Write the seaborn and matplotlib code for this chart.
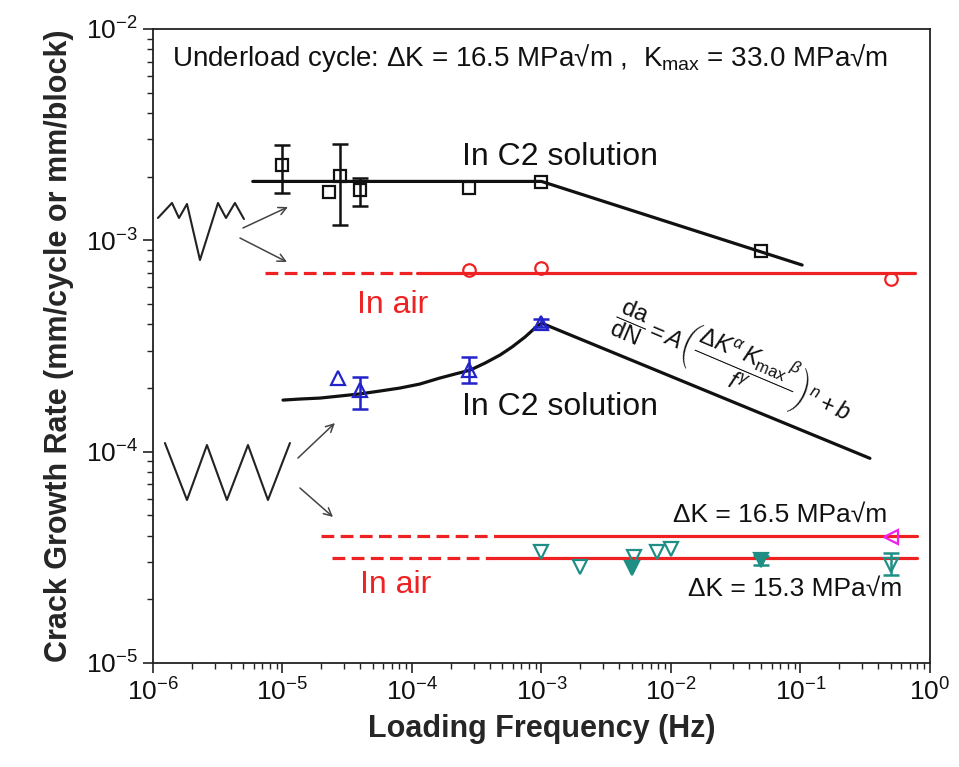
import matplotlib
matplotlib.use("Agg")
import matplotlib.pyplot as plt
import numpy as np
import pandas as pd
import seaborn as sns

# ---------------- data ----------------
# Underload cycle, C2 solution (black squares)
ul_c2_freq = [1.0e-5, 2.3e-5, 2.8e-5, 4.0e-5, 2.75e-4, 1.0e-3, 5.0e-2]
ul_c2_rate = [2.27e-3, 1.69e-3, 2.01e-3, 1.73e-3, 1.77e-3, 1.89e-3, 8.9e-4]
ul_c2_err_freq = [1.0e-5, 2.8e-5, 4.0e-5]
ul_c2_err_lo = [1.68e-3, 1.18e-3, 1.45e-3]
ul_c2_err_hi = [2.82e-3, 2.86e-3, 1.97e-3]
# fitted trend, underload C2
ul_fit_freq = [5.9e-6, 1.0e-3, 0.103]
ul_fit_rate = [1.9e-3, 1.9e-3, 7.64e-4]

# Underload cycle, air (red circles + line)
ul_air_freq = [2.75e-4, 1.0e-3, 0.5]
ul_air_rate = [7.24e-4, 7.40e-4, 6.56e-4]
ul_air_level = 7.0e-4
ul_air_dash_freq = [7.3e-6, 1.1e-4]
ul_air_solid_freq = [1.1e-4, 0.77]

# Constant amplitude, C2 solution (blue triangles)
ca_c2_freq = [2.7e-5, 4.0e-5, 2.75e-4, 1.0e-3]
ca_c2_rate = [2.23e-4, 1.96e-4, 2.43e-4, 4.06e-4]
ca_c2_err_freq = [4.0e-5, 2.75e-4, 1.0e-3]
ca_c2_err_lo = [1.59e-4, 2.11e-4, 3.90e-4]
ca_c2_err_hi = [2.25e-4, 2.81e-4, 4.25e-4]
# model curve, constant amplitude C2
ca_fit_freq = [1.01e-5, 1.36e-5, 1.95e-5, 3.9e-5, 5.66e-5, 8.07e-5, 1.15e-4,
               1.64e-4, 2.15e-4, 2.81e-4, 3.67e-4, 4.79e-4, 5.92e-4, 7.46e-4,
               8.91e-4, 1.0e-3, 0.344]
ca_fit_rate = [1.754e-4, 1.774e-4, 1.793e-4, 1.874e-4, 1.936e-4, 2.0e-4, 2.089e-4,
               2.23e-4, 2.33e-4, 2.43e-4, 2.626e-4, 2.866e-4, 3.126e-4, 3.486e-4,
               3.846e-4, 4.06e-4, 9.3e-5]

# Constant amplitude, air
air165_level = 4.0e-5
air165_dash_freq = [2.0e-5, 4.4e-4]
air165_solid_freq = [4.4e-4, 0.79]
air153_level = 3.13e-5
air153_dash_freq = [2.4e-5, 4.2e-4]
air153_solid_freq = [4.2e-4, 0.79]
air165_pt_freq = [0.5]
air165_pt_rate = [3.95e-5]
air153_open_freq = [1.0e-3, 2.0e-3, 5.2e-3, 7.8e-3, 1.0e-2, 0.5]
air153_open_rate = [3.35e-5, 2.84e-5, 3.17e-5, 3.35e-5, 3.46e-5, 2.9e-5]
air153_fill_freq = [5.0e-3, 5.0e-2]
air153_fill_rate = [2.82e-5, 3.07e-5]
air153_err_freq = [5.0e-2, 0.5]
air153_err_lo = [2.9e-5, 2.6e-5]
air153_err_hi = [3.22e-5, 3.3e-5]

x_ticks = [1e-6, 1e-5, 1e-4, 1e-3, 1e-2, 1e-1, 1e0]
y_ticks = [1e-5, 1e-4, 1e-3, 1e-2]

# ---------------- style ----------------
sns.set_theme(style="ticks")
plt.rcParams["font.family"] = ["Liberation Sans", "DejaVu Sans"]
plt.rcParams["mathtext.fontset"] = "custom"
plt.rcParams["mathtext.rm"] = "Liberation Sans"
plt.rcParams["mathtext.it"] = "Liberation Sans:italic"
plt.rcParams["mathtext.bf"] = "Liberation Sans:bold"

BLACK = "#111111"
RED = "#ee2222"
BLUE = "#2323cc"
TEAL = "#1f8f86"
MAGENTA = "#ee22ee"
LW = 2.3

fig = plt.figure(figsize=(9.59, 7.67), dpi=100)
ax = fig.add_axes([0.1595, 0.1356, 0.8102, 0.8266])
ax.set_xscale("log")
ax.set_yscale("log")


def line(xs, ys, color, ls="-"):
    sns.lineplot(x=xs, y=ys, ax=ax, color=color, lw=LW, linestyle=ls,
                 estimator=None, sort=False, legend=False)


def marks(xs, ys, color, marker, size, filled=False):
    sns.lineplot(x=xs, y=ys, ax=ax, linestyle="none", marker=marker,
                 markersize=size, markerfacecolor=color if filled else "none",
                 markeredgecolor=color, markeredgewidth=1.6,
                 estimator=None, sort=False, legend=False, color=color)


def ebars(xs, lo, hi, ys_ref, color):
    ys = np.array(ys_ref)
    lo = np.array(lo)
    hi = np.array(hi)
    ax.errorbar(xs, ys, yerr=[ys - lo, hi - ys], fmt="none", ecolor=color,
                elinewidth=1.8, capsize=6, capthick=1.8)


dash = (0, (4, 2))

# underload C2
line(ul_fit_freq, ul_fit_rate, BLACK)
ul_ref = [ul_c2_rate[ul_c2_freq.index(f)] for f in ul_c2_err_freq]
ebars(ul_c2_err_freq, ul_c2_err_lo, ul_c2_err_hi, ul_ref, BLACK)
marks(ul_c2_freq, ul_c2_rate, BLACK, "s", 8.5)

# underload air
line(ul_air_dash_freq, [ul_air_level] * 2, RED, dash)
line(ul_air_solid_freq, [ul_air_level] * 2, RED)
marks(ul_air_freq, ul_air_rate, RED, "o", 9)

# constant amplitude C2
line(ca_fit_freq, ca_fit_rate, BLACK)
ca_ref = [ca_c2_rate[ca_c2_freq.index(f)] for f in ca_c2_err_freq]
ebars(ca_c2_err_freq, ca_c2_err_lo, ca_c2_err_hi, ca_ref, BLUE)
marks(ca_c2_freq, ca_c2_rate, BLUE, "^", 10)

# constant amplitude air
line(air165_dash_freq, [air165_level] * 2, RED, dash)
line(air165_solid_freq, [air165_level] * 2, RED)
line(air153_dash_freq, [air153_level] * 2, RED, dash)
line(air153_solid_freq, [air153_level] * 2, RED)
marks(air165_pt_freq, air165_pt_rate, MAGENTA, "<", 10)
air_ref = [3.07e-5, 2.9e-5]
ebars(air153_err_freq, air153_err_lo, air153_err_hi, air_ref, TEAL)
marks(air153_open_freq, air153_open_rate, TEAL, "v", 10)
marks(air153_fill_freq, air153_fill_rate, TEAL, "v", 10, filled=True)

# ---------------- axes ----------------
ax.set_xlim(1e-6, 1e0)
ax.set_ylim(1e-5, 1e-2)
ax.set_xticks(x_ticks)
ax.set_yticks(y_ticks)
for s in ax.spines.values():
    s.set_linewidth(1.3)
    s.set_color("#222222")
ax.tick_params(which="major", direction="out", length=7, width=1.2,
               labelsize=19, pad=4, colors="#222222", labelcolor="#111111")
ax.tick_params(which="minor", direction="out", length=4, width=1.0,
               colors="#222222")
ax.tick_params(top=False, right=False, which="both")
ax.set_xlabel("Loading Frequency (Hz)", fontsize=22, fontweight="bold",
              labelpad=6)
ax.set_ylabel("Crack Growth Rate (mm/cycle or mm/block)", fontsize=22,
              fontweight="bold", labelpad=8)

# ---------------- annotations ----------------
T = ax.transAxes
ax.text(0.0245, 0.954,
        "Underload cycle: ΔK = 16.5 MPa√m ,  K$_{\\mathrm{max}}$ = 33.0 MPa√m",
        transform=T, fontsize=20, va="center", ha="left", color="#111111")
ax.text(0.398, 0.798, "In C2 solution", transform=T, fontsize=23,
        va="center", ha="left", color="#111111")
ax.text(0.2625, 0.565, "In air", transform=T, fontsize=23, va="center",
        ha="left", color=RED)
ax.text(0.398, 0.404, "In C2 solution", transform=T, fontsize=23,
        va="center", ha="left", color="#111111")
ax.text(0.266, 0.123, "In air", transform=T, fontsize=23, va="center",
        ha="left", color=RED)
ax.text(0.9447, 0.234, "ΔK = 16.5 MPa√m", transform=T, fontsize=19,
        va="center", ha="right", color="#111111")
ax.text(0.965, 0.117, "ΔK = 15.3 MPa√m", transform=T, fontsize=19,
        va="center", ha="right", color="#111111")
ax.text(0.748, 0.475,
        r"$\dfrac{\mathrm{da}}{\mathrm{dN}} = A\left(\dfrac{\Delta K^{\alpha}\,"
        r"K_{\mathrm{max}}{}^{\beta}}{f^{\gamma}}\right)^{n} + b$",
        transform=T, fontsize=17, rotation=-23, rotation_mode="anchor",
        va="center", ha="center", color="#111111")

# waveform icons (axes fraction)
ul_icon_x = [0.0064, 0.0245, 0.0335, 0.0438, 0.0605, 0.0837, 0.0940, 0.1055, 0.1171]
ul_icon_y = [0.7019, 0.7256, 0.7019, 0.7240, 0.6356, 0.7256, 0.7019, 0.7256, 0.7003]
ca_icon_x = [0.0154, 0.0438, 0.0695, 0.0952, 0.1223, 0.1480, 0.1763]
ca_icon_y = [0.3470, 0.2571, 0.3438, 0.2571, 0.3438, 0.2571, 0.3470]
ax.plot(ul_icon_x, ul_icon_y, transform=T, color="#222222", lw=1.5,
        clip_on=False)
ax.plot(ca_icon_x, ca_icon_y, transform=T, color="#222222", lw=1.5,
        clip_on=False)

arrows = [((0.1158, 0.6861), (0.1737, 0.7192)),
          ((0.1120, 0.6703), (0.1725, 0.6325)),
          ((0.1866, 0.3233), (0.2342, 0.3785)),
          ((0.1892, 0.2760), (0.2317, 0.2303))]
for start, end in arrows:
    ax.annotate("", xy=end, xytext=start, xycoords=T, textcoords=T,
                arrowprops=dict(arrowstyle="->", color="#444444", lw=1.1,
                                shrinkA=0, shrinkB=0, mutation_scale=14))

fig.savefig("out.png", dpi=100)
